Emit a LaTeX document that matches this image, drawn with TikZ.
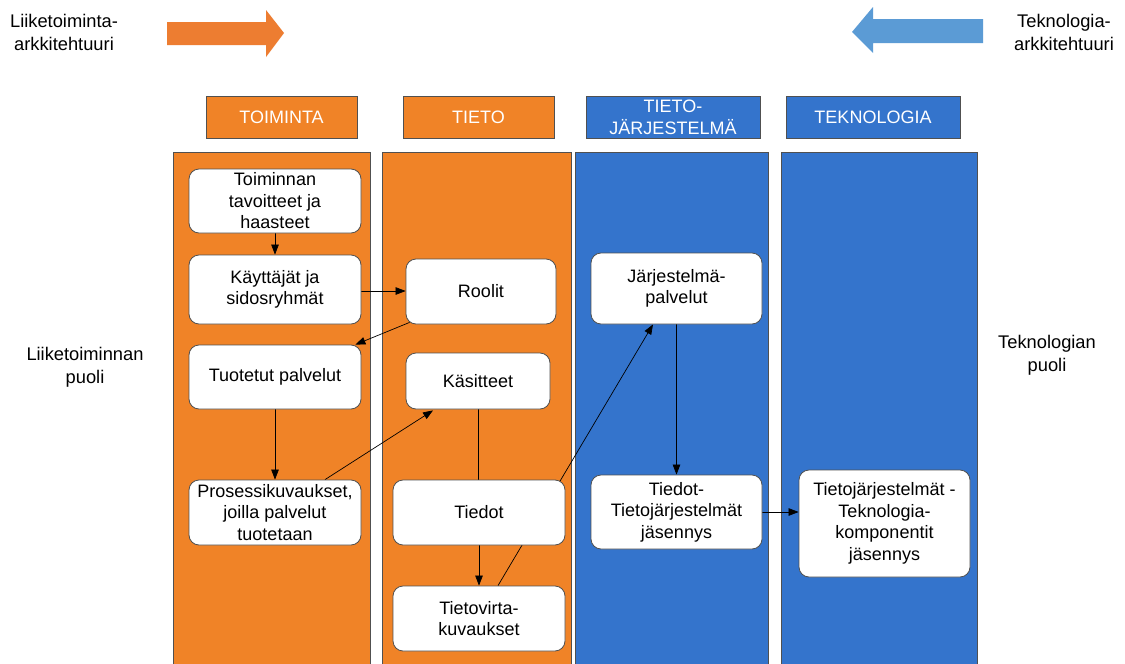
\documentclass[tikz,border=0pt]{standalone}
\usepackage{fontspec}
\setmainfont{Liberation Sans}
\usetikzlibrary{arrows.meta}
\pgfdeclarelayer{background}
\pgfdeclarelayer{lines}
\pgfsetlayers{background,lines,main}
\definecolor{lorange}{RGB}{240,131,39}
\definecolor{lblue}{RGB}{52,116,204}
\definecolor{aorange}{RGB}{237,125,49}
\definecolor{ablue}{RGB}{91,155,213}
\definecolor{edge}{RGB}{80,80,80}
\tikzset{
  lane/.style={draw=edge, line width=0.8pt},
  header/.style={draw=edge, line width=0.8pt, text=white, align=center, inner sep=0pt,
    font=\fontsize{18}{22}\selectfont},
  box/.style={draw=edge, fill=white, rounded corners=10pt, line width=0.8pt, align=center,
    inner sep=0pt, font=\fontsize{18}{21.5}\selectfont},
  lbl/.style={align=center, inner sep=0pt, font=\fontsize{18.3}{23}\selectfont},
  conn/.style={draw=black, line width=0.7pt, -{Triangle[length=10pt,width=7.5pt]}},
  plain/.style={draw=black, line width=0.7pt},
}
\begin{document}
\begin{tikzpicture}[x=1pt,y=-1pt]
\useasboundingbox (0,0) rectangle (1125,664);

% lanes
\begin{pgfonlayer}{background}
\fill[white] (0,0) rectangle (1125,664);
\filldraw[lane, fill=lorange] (173,152) rectangle (370,680);
\filldraw[lane, fill=lorange] (382,152) rectangle (571,680);
\filldraw[lane, fill=lblue] (575,152) rectangle (768,680);
\filldraw[lane, fill=lblue] (781,152) rectangle (977,680);
\end{pgfonlayer}

% big arrows
\fill[aorange] (167,22) -- (266,22) -- (266,10) -- (284,33) -- (266,57) -- (266,45) -- (167,45) -- cycle;
\fill[ablue] (983,19) -- (873,19) -- (873,7) -- (852,32) -- (873,53) -- (873,43) -- (983,43) -- cycle;

\node[lbl] (lt) at (64,32) {Liiketoiminta-\\arkkitehtuuri};
\node[lbl] (tt0) at (1064,32) {Teknologia-\\arkkitehtuuri};
\node[lbl] (lp) at (85,367) {Liiketoiminnan\\puoli};
\node[lbl] (tp) at (1047,355) {Teknologian\\puoli};

% headers
\node[header, fill=lorange, minimum width=151pt, minimum height=42pt] (h1) at (281.5,117) {TOIMINTA};
\node[header, fill=lorange, minimum width=151pt, minimum height=42pt] (h2) at (478.5,117) {TIETO};
\node[header, fill=lblue, minimum width=174pt, minimum height=42pt] (h3) at (673,117) {TIETO-\\JÄRJESTELMÄ};
\node[header, fill=lblue, minimum width=174pt, minimum height=42pt] (h4) at (873,117) {TEKNOLOGIA};

% boxes
\node[box, minimum width=172pt, minimum height=64pt] (b1) at (275,201) {Toiminnan\\tavoitteet ja\\haasteet};
\node[box, minimum width=172pt, minimum height=69pt] (b2) at (275,289.5) {Käyttäjät ja\\sidosryhmät};
\node[box, minimum width=172pt, minimum height=64pt] (b3) at (275,377) {Tuotetut palvelut};
\node[box, minimum width=172pt, minimum height=65pt] (b4) at (275,512.5) {Prosessikuvaukset,\\joilla palvelut\\tuotetaan};
\node[box, minimum width=150pt, minimum height=65pt] (r) at (481,291.5) {Roolit};
\node[box, minimum width=144pt, minimum height=56pt] (k) at (478,381) {Käsitteet};
\node[box, minimum width=172pt, minimum height=65pt] (td) at (479,512.5) {Tiedot};
\node[box, minimum width=172pt, minimum height=65pt] (tv) at (479,618.5) {Tietovirta-\\kuvaukset};
\node[box, minimum width=171pt, minimum height=71pt] (j) at (676.5,288.5) {Järjestelmä-\\palvelut};
\node[box, minimum width=171pt, minimum height=74pt] (tt) at (676.5,512) {Tiedot-\\Tietojärjestelmät\\jäsennys};
\node[box, minimum width=171pt, minimum height=107pt] (tk) at (884.5,523.5) {Tietojärjestelmät -\\Teknologia-\\komponentit\\jäsennys};

% connectors
\begin{pgfonlayer}{lines}
\draw[conn] (b1.south) -- (b2.north);
\draw[conn] ([yshift=-1.5pt]b2.east) -- ([yshift=-1.5pt]b2.east -| r.west);
\draw[conn] ([xshift=4pt,yshift=2pt]r.south west) -- ([xshift=-6pt]b3.north east);
\draw[conn] (b3.south) -- (b4.north);
\draw[conn] ([xshift=50pt]b4.north) -- ([xshift=-45pt,yshift=-1pt]k.south);
\draw[plain] (k.south) -- (k.south |- td.north);
\draw[conn] (td.south) -- (tv.north);
\draw[conn] ([xshift=19pt]tv.north) -- ([xshift=-23.5pt]j.south);
\draw[conn] (j.south) -- (tt.north);
\draw[conn] (tt.east) -- (tt.east -| tk.west);
\end{pgfonlayer}
\end{tikzpicture}
\end{document}
